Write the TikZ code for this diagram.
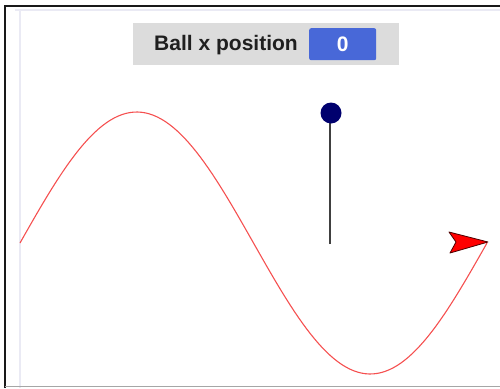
\documentclass[tikz,border=0pt]{standalone}
\usepackage{fontspec}
\setmainfont{Liberation Sans}
\definecolor{panelgray}{RGB}{220,220,220}
\definecolor{btnblue}{RGB}{72,104,216}
\definecolor{ballblue}{RGB}{0,0,110}
\definecolor{wavered}{RGB}{245,80,80}
\definecolor{edgelav}{RGB}{234,234,244}
\begin{document}
\begin{tikzpicture}[x=1pt,y=-1pt,
  panel/.style={fill=panelgray,draw=none},
  btn/.style={fill=btnblue,draw=none,rounded corners=2pt},
  lbl/.style={font=\fontsize{21}{21}\selectfont\bfseries,text=black!88,inner sep=0},
  wave/.style={draw=wavered,line width=1.1pt}]
\useasboundingbox (0,0) rectangle (500,388);
% frame
\draw[edgelav,line width=1.5pt] (15,10) -- (500,10);
\draw[edgelav,line width=1.5pt] (20,10) -- (20,388);
\draw[black!90,line width=2pt] (5,388) -- (5,5.5) -- (500,5.5);
\draw[black!35,line width=1.5pt] (5,386.5) -- (500,386.5);
% panel
\node[panel,minimum width=266,minimum height=42,anchor=north west,inner sep=0] (panel) at (133,23) {};
\node[btn,minimum width=67,minimum height=32,anchor=north west,inner sep=0] (btn) at (309,28) {};
\node[lbl] (label) at (226,45.5) {Ball x position};
\node[lbl,text=white] (val) at (btn.center) {0};
% pin
\coordinate (pinbase) at (330,244);
\draw[black!75,line width=2.6pt] (pinbase) -- (330,113);
\node[circle,fill=ballblue,minimum size=21,inner sep=0] (ball) at (331,113) {};
% wave
\draw[wave,domain=0:360,samples=120,variable=\t] plot ({20+\t/360*467},{243-131*sin(\t)});
% arrow head
\coordinate (tip) at (488,242);
\fill[red,draw=black!70!red,line width=0.8pt,line join=round] (tip) -- (449,232) -- (456,242) -- (450,253) -- cycle;
\end{tikzpicture}
\end{document}
